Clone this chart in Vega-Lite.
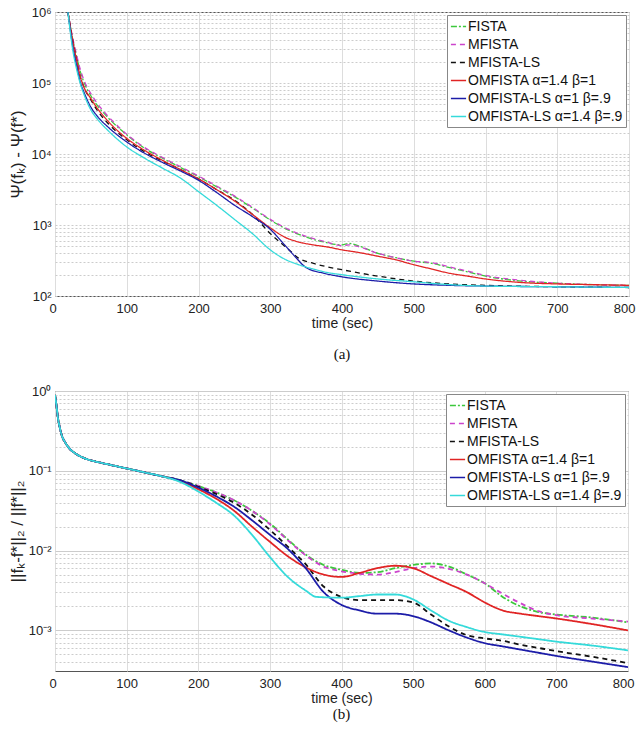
{
  "$schema": "https://vega.github.io/schema/vega-lite/v6.json",
  "padding": {"left": 7, "top": 5, "right": 4, "bottom": 5},
  "background": "white",
  "spacing": 21,
  "datasets": {
    "top": [
      {"t":18,"m":"FISTA","v":1000000},{"t":25,"m":"FISTA","v":398100},{"t":30,"m":"FISTA","v":239900},{"t":35,"m":"FISTA","v":147900},{"t":40,"m":"FISTA","v":104700},{"t":50,"m":"FISTA","v":66070},{"t":60,"m":"FISTA","v":46770},{"t":75,"m":"FISTA","v":31620},{"t":100,"m":"FISTA","v":18620},{"t":125,"m":"FISTA","v":12020},{"t":150,"m":"FISTA","v":8710},{"t":175,"m":"FISTA","v":6457},{"t":200,"m":"FISTA","v":4786},{"t":225,"m":"FISTA","v":3467},{"t":250,"m":"FISTA","v":2512},{"t":275,"m":"FISTA","v":1738},{"t":300,"m":"FISTA","v":1175},{"t":325,"m":"FISTA","v":851.1},{"t":350,"m":"FISTA","v":676.1},{"t":375,"m":"FISTA","v":575.4},{"t":400,"m":"FISTA","v":524.8},{"t":410,"m":"FISTA","v":549.5},{"t":425,"m":"FISTA","v":501.2},{"t":450,"m":"FISTA","v":398.1},{"t":475,"m":"FISTA","v":346.7},{"t":500,"m":"FISTA","v":309.0},{"t":525,"m":"FISTA","v":288.4},{"t":550,"m":"FISTA","v":251.2},{"t":575,"m":"FISTA","v":218.8},{"t":600,"m":"FISTA","v":190.5},{"t":650,"m":"FISTA","v":162.2},{"t":700,"m":"FISTA","v":151.4},{"t":750,"m":"FISTA","v":144.5},{"t":800,"m":"FISTA","v":141.3},
      {"t":18,"m":"MFISTA","v":1000000},{"t":25,"m":"MFISTA","v":416900},{"t":30,"m":"MFISTA","v":251200},{"t":35,"m":"MFISTA","v":158500},{"t":40,"m":"MFISTA","v":112200},{"t":50,"m":"MFISTA","v":70790},{"t":60,"m":"MFISTA","v":50120},{"t":75,"m":"MFISTA","v":33110},{"t":100,"m":"MFISTA","v":19050},{"t":125,"m":"MFISTA","v":12300},{"t":150,"m":"MFISTA","v":8913},{"t":175,"m":"MFISTA","v":6607},{"t":200,"m":"MFISTA","v":4898},{"t":225,"m":"MFISTA","v":3548},{"t":250,"m":"MFISTA","v":2570},{"t":275,"m":"MFISTA","v":1778},{"t":300,"m":"MFISTA","v":1202},{"t":325,"m":"MFISTA","v":871.0},{"t":350,"m":"MFISTA","v":691.8},{"t":375,"m":"MFISTA","v":588.8},{"t":400,"m":"MFISTA","v":512.9},{"t":410,"m":"MFISTA","v":524.8},{"t":425,"m":"MFISTA","v":489.8},{"t":450,"m":"MFISTA","v":398.1},{"t":475,"m":"MFISTA","v":346.7},{"t":500,"m":"MFISTA","v":309.0},{"t":525,"m":"MFISTA","v":295.1},{"t":550,"m":"MFISTA","v":257.0},{"t":575,"m":"MFISTA","v":223.9},{"t":600,"m":"MFISTA","v":195.0},{"t":650,"m":"MFISTA","v":166.0},{"t":700,"m":"MFISTA","v":151.4},{"t":750,"m":"MFISTA","v":144.5},{"t":800,"m":"MFISTA","v":141.3},
      {"t":18,"m":"MFISTA-LS","v":1000000},{"t":25,"m":"MFISTA-LS","v":380200},{"t":30,"m":"MFISTA-LS","v":213800},{"t":35,"m":"MFISTA-LS","v":125900},{"t":40,"m":"MFISTA-LS","v":89130},{"t":50,"m":"MFISTA-LS","v":57540},{"t":60,"m":"MFISTA-LS","v":39810},{"t":75,"m":"MFISTA-LS","v":26300},{"t":100,"m":"MFISTA-LS","v":15850},{"t":125,"m":"MFISTA-LS","v":10720},{"t":150,"m":"MFISTA-LS","v":7943},{"t":175,"m":"MFISTA-LS","v":6026},{"t":200,"m":"MFISTA-LS","v":4467},{"t":225,"m":"MFISTA-LS","v":3162},{"t":250,"m":"MFISTA-LS","v":2239},{"t":275,"m":"MFISTA-LS","v":1413},{"t":300,"m":"MFISTA-LS","v":758.6},{"t":325,"m":"MFISTA-LS","v":457.1},{"t":340,"m":"MFISTA-LS","v":338.8},{"t":360,"m":"MFISTA-LS","v":288.4},{"t":380,"m":"MFISTA-LS","v":257.0},{"t":400,"m":"MFISTA-LS","v":234.4},{"t":450,"m":"MFISTA-LS","v":190.5},{"t":500,"m":"MFISTA-LS","v":162.2},{"t":550,"m":"MFISTA-LS","v":147.9},{"t":600,"m":"MFISTA-LS","v":141.3},{"t":700,"m":"MFISTA-LS","v":134.9},{"t":800,"m":"MFISTA-LS","v":131.8},
      {"t":18,"m":"OMFISTA α=1.4 β=1","v":1000000},{"t":25,"m":"OMFISTA α=1.4 β=1","v":380200},{"t":30,"m":"OMFISTA α=1.4 β=1","v":213800},{"t":35,"m":"OMFISTA α=1.4 β=1","v":125900},{"t":40,"m":"OMFISTA α=1.4 β=1","v":89130},{"t":50,"m":"OMFISTA α=1.4 β=1","v":60260},{"t":60,"m":"OMFISTA α=1.4 β=1","v":42660},{"t":75,"m":"OMFISTA α=1.4 β=1","v":28180},{"t":100,"m":"OMFISTA α=1.4 β=1","v":16600},{"t":125,"m":"OMFISTA α=1.4 β=1","v":11220},{"t":150,"m":"OMFISTA α=1.4 β=1","v":8128},{"t":175,"m":"OMFISTA α=1.4 β=1","v":6026},{"t":200,"m":"OMFISTA α=1.4 β=1","v":4467},{"t":225,"m":"OMFISTA α=1.4 β=1","v":3162},{"t":250,"m":"OMFISTA α=1.4 β=1","v":2188},{"t":275,"m":"OMFISTA α=1.4 β=1","v":1413},{"t":300,"m":"OMFISTA α=1.4 β=1","v":912.0},{"t":320,"m":"OMFISTA α=1.4 β=1","v":676.1},{"t":340,"m":"OMFISTA α=1.4 β=1","v":575.4},{"t":360,"m":"OMFISTA α=1.4 β=1","v":524.8},{"t":380,"m":"OMFISTA α=1.4 β=1","v":489.8},{"t":400,"m":"OMFISTA α=1.4 β=1","v":446.7},{"t":425,"m":"OMFISTA α=1.4 β=1","v":407.4},{"t":450,"m":"OMFISTA α=1.4 β=1","v":363.1},{"t":475,"m":"OMFISTA α=1.4 β=1","v":323.6},{"t":500,"m":"OMFISTA α=1.4 β=1","v":275.4},{"t":525,"m":"OMFISTA α=1.4 β=1","v":239.9},{"t":550,"m":"OMFISTA α=1.4 β=1","v":208.9},{"t":575,"m":"OMFISTA α=1.4 β=1","v":190.5},{"t":600,"m":"OMFISTA α=1.4 β=1","v":173.8},{"t":650,"m":"OMFISTA α=1.4 β=1","v":154.9},{"t":700,"m":"OMFISTA α=1.4 β=1","v":147.9},{"t":750,"m":"OMFISTA α=1.4 β=1","v":144.5},{"t":800,"m":"OMFISTA α=1.4 β=1","v":141.3},
      {"t":18,"m":"OMFISTA-LS α=1 β=.9","v":1000000},{"t":25,"m":"OMFISTA-LS α=1 β=.9","v":316200},{"t":30,"m":"OMFISTA-LS α=1 β=.9","v":177800},{"t":35,"m":"OMFISTA-LS α=1 β=.9","v":104700},{"t":40,"m":"OMFISTA-LS α=1 β=.9","v":75860},{"t":50,"m":"OMFISTA-LS α=1 β=.9","v":45710},{"t":60,"m":"OMFISTA-LS α=1 β=.9","v":33110},{"t":75,"m":"OMFISTA-LS α=1 β=.9","v":23440},{"t":100,"m":"OMFISTA-LS α=1 β=.9","v":14790},{"t":125,"m":"OMFISTA-LS α=1 β=.9","v":10230},{"t":150,"m":"OMFISTA-LS α=1 β=.9","v":7586},{"t":175,"m":"OMFISTA-LS α=1 β=.9","v":5754},{"t":200,"m":"OMFISTA-LS α=1 β=.9","v":4266},{"t":225,"m":"OMFISTA-LS α=1 β=.9","v":2884},{"t":250,"m":"OMFISTA-LS α=1 β=.9","v":1905},{"t":275,"m":"OMFISTA-LS α=1 β=.9","v":1318},{"t":300,"m":"OMFISTA-LS α=1 β=.9","v":871.0},{"t":320,"m":"OMFISTA-LS α=1 β=.9","v":524.8},{"t":335,"m":"OMFISTA-LS α=1 β=.9","v":354.8},{"t":350,"m":"OMFISTA-LS α=1 β=.9","v":251.2},{"t":375,"m":"OMFISTA-LS α=1 β=.9","v":208.9},{"t":400,"m":"OMFISTA-LS α=1 β=.9","v":186.2},{"t":450,"m":"OMFISTA-LS α=1 β=.9","v":162.2},{"t":500,"m":"OMFISTA-LS α=1 β=.9","v":147.9},{"t":550,"m":"OMFISTA-LS α=1 β=.9","v":141.3},{"t":600,"m":"OMFISTA-LS α=1 β=.9","v":138.0},{"t":700,"m":"OMFISTA-LS α=1 β=.9","v":134.9},{"t":800,"m":"OMFISTA-LS α=1 β=.9","v":131.8},
      {"t":18,"m":"OMFISTA-LS α=1.4 β=.9","v":1000000},{"t":25,"m":"OMFISTA-LS α=1.4 β=.9","v":281800},{"t":30,"m":"OMFISTA-LS α=1.4 β=.9","v":158500},{"t":35,"m":"OMFISTA-LS α=1.4 β=.9","v":100000},{"t":40,"m":"OMFISTA-LS α=1.4 β=.9","v":70790},{"t":50,"m":"OMFISTA-LS α=1.4 β=.9","v":41690},{"t":60,"m":"OMFISTA-LS α=1.4 β=.9","v":30200},{"t":75,"m":"OMFISTA-LS α=1.4 β=.9","v":20890},{"t":100,"m":"OMFISTA-LS α=1.4 β=.9","v":12590},{"t":125,"m":"OMFISTA-LS α=1.4 β=.9","v":8710},{"t":150,"m":"OMFISTA-LS α=1.4 β=.9","v":6310},{"t":175,"m":"OMFISTA-LS α=1.4 β=.9","v":4571},{"t":200,"m":"OMFISTA-LS α=1.4 β=.9","v":2951},{"t":225,"m":"OMFISTA-LS α=1.4 β=.9","v":1905},{"t":250,"m":"OMFISTA-LS α=1.4 β=.9","v":1202},{"t":275,"m":"OMFISTA-LS α=1.4 β=.9","v":758.6},{"t":300,"m":"OMFISTA-LS α=1.4 β=.9","v":446.7},{"t":320,"m":"OMFISTA-LS α=1.4 β=.9","v":331.1},{"t":340,"m":"OMFISTA-LS α=1.4 β=.9","v":275.4},{"t":360,"m":"OMFISTA-LS α=1.4 β=.9","v":239.9},{"t":380,"m":"OMFISTA-LS α=1.4 β=.9","v":213.8},{"t":400,"m":"OMFISTA-LS α=1.4 β=.9","v":199.5},{"t":450,"m":"OMFISTA-LS α=1.4 β=.9","v":173.8},{"t":500,"m":"OMFISTA-LS α=1.4 β=.9","v":158.5},{"t":550,"m":"OMFISTA-LS α=1.4 β=.9","v":144.5},{"t":600,"m":"OMFISTA-LS α=1.4 β=.9","v":138.0},{"t":700,"m":"OMFISTA-LS α=1.4 β=.9","v":134.9},{"t":800,"m":"OMFISTA-LS α=1.4 β=.9","v":131.8}
    ],
    "bot": [
      {"t":0,"m":"FISTA","v":0.891},{"t":2,"m":"FISTA","v":0.661},{"t":4,"m":"FISTA","v":0.468},{"t":7,"m":"FISTA","v":0.339},{"t":10,"m":"FISTA","v":0.269},{"t":14,"m":"FISTA","v":0.229},{"t":20,"m":"FISTA","v":0.191},{"t":28,"m":"FISTA","v":0.166},{"t":40,"m":"FISTA","v":0.145},{"t":55,"m":"FISTA","v":0.132},{"t":75,"m":"FISTA","v":0.120},{"t":100,"m":"FISTA","v":0.107},{"t":125,"m":"FISTA","v":0.0955},{"t":150,"m":"FISTA","v":0.0851},
      {"t":175,"m":"FISTA","v":0.0759},{"t":200,"m":"FISTA","v":0.0646},{"t":225,"m":"FISTA","v":0.0537},{"t":250,"m":"FISTA","v":0.0427},{"t":275,"m":"FISTA","v":0.0316},{"t":300,"m":"FISTA","v":0.0219},{"t":325,"m":"FISTA","v":0.0138},{"t":350,"m":"FISTA","v":0.00891},{"t":375,"m":"FISTA","v":0.00661},{"t":400,"m":"FISTA","v":0.00575},{"t":425,"m":"FISTA","v":0.00525},{"t":450,"m":"FISTA","v":0.00537},{"t":475,"m":"FISTA","v":0.00603},{"t":500,"m":"FISTA","v":0.00661},{"t":525,"m":"FISTA","v":0.00692},{"t":550,"m":"FISTA","v":0.00631},{"t":575,"m":"FISTA","v":0.00501},{"t":600,"m":"FISTA","v":0.00389},{"t":625,"m":"FISTA","v":0.00263},{"t":650,"m":"FISTA","v":0.00200},{"t":675,"m":"FISTA","v":0.00170},{"t":700,"m":"FISTA","v":0.00158},{"t":750,"m":"FISTA","v":0.00145},{"t":800,"m":"FISTA","v":0.00126},
      {"t":0,"m":"MFISTA","v":0.891},{"t":2,"m":"MFISTA","v":0.661},{"t":4,"m":"MFISTA","v":0.468},{"t":7,"m":"MFISTA","v":0.339},{"t":10,"m":"MFISTA","v":0.269},{"t":14,"m":"MFISTA","v":0.229},{"t":20,"m":"MFISTA","v":0.191},{"t":28,"m":"MFISTA","v":0.166},{"t":40,"m":"MFISTA","v":0.145},{"t":55,"m":"MFISTA","v":0.132},{"t":75,"m":"MFISTA","v":0.120},{"t":100,"m":"MFISTA","v":0.107},{"t":125,"m":"MFISTA","v":0.0955},{"t":150,"m":"MFISTA","v":0.0851},
      {"t":175,"m":"MFISTA","v":0.0759},{"t":200,"m":"MFISTA","v":0.0646},{"t":225,"m":"MFISTA","v":0.0537},{"t":250,"m":"MFISTA","v":0.0427},{"t":275,"m":"MFISTA","v":0.0316},{"t":300,"m":"MFISTA","v":0.0214},{"t":325,"m":"MFISTA","v":0.0135},{"t":350,"m":"MFISTA","v":0.00871},{"t":375,"m":"MFISTA","v":0.00631},{"t":400,"m":"MFISTA","v":0.00550},{"t":425,"m":"MFISTA","v":0.00513},{"t":450,"m":"MFISTA","v":0.00501},{"t":475,"m":"MFISTA","v":0.00537},{"t":500,"m":"MFISTA","v":0.00603},{"t":525,"m":"MFISTA","v":0.00631},{"t":550,"m":"MFISTA","v":0.00589},{"t":575,"m":"MFISTA","v":0.00501},{"t":600,"m":"MFISTA","v":0.00389},{"t":625,"m":"MFISTA","v":0.00288},{"t":650,"m":"MFISTA","v":0.00219},{"t":675,"m":"MFISTA","v":0.00174},{"t":700,"m":"MFISTA","v":0.00155},{"t":750,"m":"MFISTA","v":0.00141},{"t":800,"m":"MFISTA","v":0.00129},
      {"t":0,"m":"MFISTA-LS","v":0.891},{"t":2,"m":"MFISTA-LS","v":0.661},{"t":4,"m":"MFISTA-LS","v":0.468},{"t":7,"m":"MFISTA-LS","v":0.339},{"t":10,"m":"MFISTA-LS","v":0.269},{"t":14,"m":"MFISTA-LS","v":0.229},{"t":20,"m":"MFISTA-LS","v":0.191},{"t":28,"m":"MFISTA-LS","v":0.166},{"t":40,"m":"MFISTA-LS","v":0.145},{"t":55,"m":"MFISTA-LS","v":0.132},{"t":75,"m":"MFISTA-LS","v":0.120},{"t":100,"m":"MFISTA-LS","v":0.107},{"t":125,"m":"MFISTA-LS","v":0.0955},{"t":150,"m":"MFISTA-LS","v":0.0851},
      {"t":175,"m":"MFISTA-LS","v":0.0759},{"t":200,"m":"MFISTA-LS","v":0.0631},{"t":225,"m":"MFISTA-LS","v":0.0513},{"t":250,"m":"MFISTA-LS","v":0.0398},{"t":275,"m":"MFISTA-LS","v":0.0282},{"t":300,"m":"MFISTA-LS","v":0.0182},{"t":325,"m":"MFISTA-LS","v":0.0112},{"t":350,"m":"MFISTA-LS","v":0.00676},{"t":375,"m":"MFISTA-LS","v":0.00355},{"t":400,"m":"MFISTA-LS","v":0.00263},{"t":425,"m":"MFISTA-LS","v":0.00240},{"t":450,"m":"MFISTA-LS","v":0.00240},{"t":475,"m":"MFISTA-LS","v":0.00240},{"t":500,"m":"MFISTA-LS","v":0.00224},{"t":525,"m":"MFISTA-LS","v":0.00158},{"t":550,"m":"MFISTA-LS","v":0.00112},{"t":575,"m":"MFISTA-LS","v":0.000871},{"t":600,"m":"MFISTA-LS","v":0.000794},{"t":625,"m":"MFISTA-LS","v":0.000741},{"t":650,"m":"MFISTA-LS","v":0.000661},{"t":675,"m":"MFISTA-LS","v":0.000603},{"t":700,"m":"MFISTA-LS","v":0.000550},{"t":750,"m":"MFISTA-LS","v":0.000468},{"t":800,"m":"MFISTA-LS","v":0.000389},
      {"t":0,"m":"OMFISTA α=1.4 β=1","v":0.891},{"t":2,"m":"OMFISTA α=1.4 β=1","v":0.661},{"t":4,"m":"OMFISTA α=1.4 β=1","v":0.468},{"t":7,"m":"OMFISTA α=1.4 β=1","v":0.339},{"t":10,"m":"OMFISTA α=1.4 β=1","v":0.269},{"t":14,"m":"OMFISTA α=1.4 β=1","v":0.229},{"t":20,"m":"OMFISTA α=1.4 β=1","v":0.191},{"t":28,"m":"OMFISTA α=1.4 β=1","v":0.166},{"t":40,"m":"OMFISTA α=1.4 β=1","v":0.145},{"t":55,"m":"OMFISTA α=1.4 β=1","v":0.132},{"t":75,"m":"OMFISTA α=1.4 β=1","v":0.120},{"t":100,"m":"OMFISTA α=1.4 β=1","v":0.107},{"t":125,"m":"OMFISTA α=1.4 β=1","v":0.0955},{"t":150,"m":"OMFISTA α=1.4 β=1","v":0.0851},
      {"t":175,"m":"OMFISTA α=1.4 β=1","v":0.0741},{"t":200,"m":"OMFISTA α=1.4 β=1","v":0.0589},{"t":225,"m":"OMFISTA α=1.4 β=1","v":0.0447},{"t":250,"m":"OMFISTA α=1.4 β=1","v":0.0316},{"t":275,"m":"OMFISTA α=1.4 β=1","v":0.0200},{"t":300,"m":"OMFISTA α=1.4 β=1","v":0.0129},{"t":325,"m":"OMFISTA α=1.4 β=1","v":0.00851},{"t":350,"m":"OMFISTA α=1.4 β=1","v":0.00617},{"t":375,"m":"OMFISTA α=1.4 β=1","v":0.00501},{"t":400,"m":"OMFISTA α=1.4 β=1","v":0.00468},{"t":425,"m":"OMFISTA α=1.4 β=1","v":0.00525},{"t":450,"m":"OMFISTA α=1.4 β=1","v":0.00603},{"t":475,"m":"OMFISTA α=1.4 β=1","v":0.00646},{"t":500,"m":"OMFISTA α=1.4 β=1","v":0.00603},{"t":525,"m":"OMFISTA α=1.4 β=1","v":0.00479},{"t":550,"m":"OMFISTA α=1.4 β=1","v":0.00380},{"t":575,"m":"OMFISTA α=1.4 β=1","v":0.00302},{"t":600,"m":"OMFISTA α=1.4 β=1","v":0.00224},{"t":625,"m":"OMFISTA α=1.4 β=1","v":0.00178},{"t":650,"m":"OMFISTA α=1.4 β=1","v":0.00162},{"t":675,"m":"OMFISTA α=1.4 β=1","v":0.00151},{"t":700,"m":"OMFISTA α=1.4 β=1","v":0.00141},{"t":750,"m":"OMFISTA α=1.4 β=1","v":0.00120},{"t":800,"m":"OMFISTA α=1.4 β=1","v":0.00100},
      {"t":0,"m":"OMFISTA-LS α=1 β=.9","v":0.891},{"t":2,"m":"OMFISTA-LS α=1 β=.9","v":0.661},{"t":4,"m":"OMFISTA-LS α=1 β=.9","v":0.468},{"t":7,"m":"OMFISTA-LS α=1 β=.9","v":0.339},{"t":10,"m":"OMFISTA-LS α=1 β=.9","v":0.269},{"t":14,"m":"OMFISTA-LS α=1 β=.9","v":0.229},{"t":20,"m":"OMFISTA-LS α=1 β=.9","v":0.191},{"t":28,"m":"OMFISTA-LS α=1 β=.9","v":0.166},{"t":40,"m":"OMFISTA-LS α=1 β=.9","v":0.145},{"t":55,"m":"OMFISTA-LS α=1 β=.9","v":0.132},{"t":75,"m":"OMFISTA-LS α=1 β=.9","v":0.120},{"t":100,"m":"OMFISTA-LS α=1 β=.9","v":0.107},{"t":125,"m":"OMFISTA-LS α=1 β=.9","v":0.0955},{"t":150,"m":"OMFISTA-LS α=1 β=.9","v":0.0851},
      {"t":175,"m":"OMFISTA-LS α=1 β=.9","v":0.0759},{"t":200,"m":"OMFISTA-LS α=1 β=.9","v":0.0617},{"t":225,"m":"OMFISTA-LS α=1 β=.9","v":0.0479},{"t":250,"m":"OMFISTA-LS α=1 β=.9","v":0.0355},{"t":275,"m":"OMFISTA-LS α=1 β=.9","v":0.0240},{"t":300,"m":"OMFISTA-LS α=1 β=.9","v":0.0158},{"t":325,"m":"OMFISTA-LS α=1 β=.9","v":0.0105},{"t":350,"m":"OMFISTA-LS α=1 β=.9","v":0.00603},{"t":375,"m":"OMFISTA-LS α=1 β=.9","v":0.00302},{"t":400,"m":"OMFISTA-LS α=1 β=.9","v":0.00209},{"t":425,"m":"OMFISTA-LS α=1 β=.9","v":0.00178},{"t":450,"m":"OMFISTA-LS α=1 β=.9","v":0.00162},{"t":475,"m":"OMFISTA-LS α=1 β=.9","v":0.00162},{"t":500,"m":"OMFISTA-LS α=1 β=.9","v":0.00151},{"t":525,"m":"OMFISTA-LS α=1 β=.9","v":0.00126},{"t":550,"m":"OMFISTA-LS α=1 β=.9","v":0.00100},{"t":575,"m":"OMFISTA-LS α=1 β=.9","v":0.000813},{"t":600,"m":"OMFISTA-LS α=1 β=.9","v":0.000692},{"t":625,"m":"OMFISTA-LS α=1 β=.9","v":0.000631},{"t":650,"m":"OMFISTA-LS α=1 β=.9","v":0.000575},{"t":675,"m":"OMFISTA-LS α=1 β=.9","v":0.000525},{"t":700,"m":"OMFISTA-LS α=1 β=.9","v":0.000479},{"t":750,"m":"OMFISTA-LS α=1 β=.9","v":0.000407},{"t":800,"m":"OMFISTA-LS α=1 β=.9","v":0.000347},
      {"t":0,"m":"OMFISTA-LS α=1.4 β=.9","v":0.891},{"t":2,"m":"OMFISTA-LS α=1.4 β=.9","v":0.661},{"t":4,"m":"OMFISTA-LS α=1.4 β=.9","v":0.468},{"t":7,"m":"OMFISTA-LS α=1.4 β=.9","v":0.339},{"t":10,"m":"OMFISTA-LS α=1.4 β=.9","v":0.269},{"t":14,"m":"OMFISTA-LS α=1.4 β=.9","v":0.229},{"t":20,"m":"OMFISTA-LS α=1.4 β=.9","v":0.191},{"t":28,"m":"OMFISTA-LS α=1.4 β=.9","v":0.166},{"t":40,"m":"OMFISTA-LS α=1.4 β=.9","v":0.145},{"t":55,"m":"OMFISTA-LS α=1.4 β=.9","v":0.132},{"t":75,"m":"OMFISTA-LS α=1.4 β=.9","v":0.120},{"t":100,"m":"OMFISTA-LS α=1.4 β=.9","v":0.107},{"t":125,"m":"OMFISTA-LS α=1.4 β=.9","v":0.0955},{"t":150,"m":"OMFISTA-LS α=1.4 β=.9","v":0.0851},
      {"t":175,"m":"OMFISTA-LS α=1.4 β=.9","v":0.0724},{"t":200,"m":"OMFISTA-LS α=1.4 β=.9","v":0.0550},{"t":225,"m":"OMFISTA-LS α=1.4 β=.9","v":0.0398},{"t":250,"m":"OMFISTA-LS α=1.4 β=.9","v":0.0275},{"t":275,"m":"OMFISTA-LS α=1.4 β=.9","v":0.0158},{"t":300,"m":"OMFISTA-LS α=1.4 β=.9","v":0.00832},{"t":325,"m":"OMFISTA-LS α=1.4 β=.9","v":0.00468},{"t":350,"m":"OMFISTA-LS α=1.4 β=.9","v":0.00316},{"t":365,"m":"OMFISTA-LS α=1.4 β=.9","v":0.00263},{"t":400,"m":"OMFISTA-LS α=1.4 β=.9","v":0.00257},{"t":425,"m":"OMFISTA-LS α=1.4 β=.9","v":0.00269},{"t":450,"m":"OMFISTA-LS α=1.4 β=.9","v":0.00282},{"t":475,"m":"OMFISTA-LS α=1.4 β=.9","v":0.00282},{"t":500,"m":"OMFISTA-LS α=1.4 β=.9","v":0.00245},{"t":525,"m":"OMFISTA-LS α=1.4 β=.9","v":0.00178},{"t":550,"m":"OMFISTA-LS α=1.4 β=.9","v":0.00132},{"t":575,"m":"OMFISTA-LS α=1.4 β=.9","v":0.00110},{"t":600,"m":"OMFISTA-LS α=1.4 β=.9","v":0.000955},{"t":625,"m":"OMFISTA-LS α=1.4 β=.9","v":0.000891},{"t":650,"m":"OMFISTA-LS α=1.4 β=.9","v":0.000832},{"t":675,"m":"OMFISTA-LS α=1.4 β=.9","v":0.000776},{"t":700,"m":"OMFISTA-LS α=1.4 β=.9","v":0.000724},{"t":750,"m":"OMFISTA-LS α=1.4 β=.9","v":0.000646},{"t":800,"m":"OMFISTA-LS α=1.4 β=.9","v":0.000562}
    ]
  },
  "resolve": {"scale": {"color": "independent", "strokeDash": "independent"}, "legend": {"color": "independent", "strokeDash": "independent"}},
  "vconcat": [
    {
      "width": 574,
      "height": 284,
      "data": {"name": "top"},
      "title": {"text": "(a)", "orient": "bottom", "frame": "group", "anchor": "middle", "font": "Liberation Serif", "fontSize": 15, "fontWeight": "normal", "color": "#111", "offset": 17},
      "mark": {"type": "line", "strokeWidth": 1.3, "clip": true, "interpolate": "monotone"},
      "encoding": {
        "x": {"field": "t", "type": "quantitative", "scale": {"domain": [0, 800], "nice": false},
              "axis": {"values": [0,100,200,300,400,500,600,700,800], "title": "time (sec)", "titleFontSize": 14, "titlePadding": 1, "labelPadding": 6, "labelFlush": true, "labelFlushOffset": 6, "grid": true, "gridColor": "#dddddd"}},
        "y": {"field": "v", "type": "quantitative", "scale": {"type": "log", "domain": [100, 1000000], "nice": false},
              "axis": {"title": "Ψ(fₖ) - Ψ(f*)", "titlePadding": 4,
                       "values": [100,200,300,400,500,600,700,800,900,1000,2000,3000,4000,5000,6000,7000,8000,9000,10000,20000,30000,40000,50000,60000,70000,80000,90000,100000,200000,300000,400000,500000,600000,700000,800000,900000,1000000],
                       "labelExpr": "datum.value==100?'10²':datum.value==1000?'10³':datum.value==10000?'10⁴':datum.value==100000?'10⁵':datum.value==1000000?'10⁶':''",
                       "grid": true, "gridDash": [2, 2], "gridColor": "#cccccc"}},
        "color": {"field": "m", "type": "nominal", "title": null,
                  "scale": {"domain": ["FISTA","MFISTA","MFISTA-LS","OMFISTA α=1.4 β=1","OMFISTA-LS α=1 β=.9","OMFISTA-LS α=1.4 β=.9"],
                            "range": ["#3cc83c","#cc44cc","#111111","#e02424","#1c1ca8","#35dada"]}},
        "strokeDash": {"field": "m", "type": "nominal", "title": null,
                  "scale": {"domain": ["FISTA","MFISTA","MFISTA-LS","OMFISTA α=1.4 β=1","OMFISTA-LS α=1 β=.9","OMFISTA-LS α=1.4 β=.9"],
                            "range": [[6,2,2,2],[5,4],[5,4],[1,0],[1,0],[1,0]]}}
      }
    },
    {
      "width": 573,
      "height": 280,
      "data": {"name": "bot"},
      "title": {"text": "(b)", "orient": "bottom", "frame": "group", "anchor": "middle", "font": "Liberation Serif", "fontSize": 15, "fontWeight": "normal", "color": "#111", "offset": 2},
      "mark": {"type": "line", "strokeWidth": 1.8, "clip": true, "interpolate": "monotone"},
      "encoding": {
        "x": {"field": "t", "type": "quantitative", "scale": {"domain": [0, 800], "nice": false},
              "axis": {"values": [0,100,200,300,400,500,600,700,800], "title": "time (sec)", "titleFontSize": 14, "titlePadding": 1, "labelPadding": 6, "labelFlush": true, "labelFlushOffset": 6, "grid": true, "gridColor": "#dddddd"}},
        "y": {"field": "v", "type": "quantitative", "scale": {"type": "log", "domain": [0.00031, 1], "nice": false},
              "axis": {"title": "||fₖ-f*||₂ / ||f*||₂", "titlePadding": 2,
                       "values": [0.0004,0.0005,0.0006,0.0007,0.0008,0.0009,0.001,0.002,0.003,0.004,0.005,0.006,0.007,0.008,0.009,0.01,0.02,0.03,0.04,0.05,0.06,0.07,0.08,0.09,0.1,0.2,0.3,0.4,0.5,0.6,0.7,0.8,0.9,1],
                       "labelExpr": "datum.value==0.001?'10⁻³':datum.value==0.01?'10⁻²':datum.value==0.1?'10⁻¹':datum.value==1?'10⁰':''",
                       "grid": true,
                       "gridDash": {"condition": {"test": "datum.value==0.001||datum.value==0.01||datum.value==0.1||datum.value==1", "value": []}, "value": [2, 2]},
                       "gridColor": "#cccccc"}},
        "color": {"field": "m", "type": "nominal", "title": null,
                  "scale": {"domain": ["FISTA","MFISTA","MFISTA-LS","OMFISTA α=1.4 β=1","OMFISTA-LS α=1 β=.9","OMFISTA-LS α=1.4 β=.9"],
                            "range": ["#3cc83c","#cc44cc","#111111","#e02424","#1c1ca8","#35dada"]}},
        "strokeDash": {"field": "m", "type": "nominal", "title": null,
                  "scale": {"domain": ["FISTA","MFISTA","MFISTA-LS","OMFISTA α=1.4 β=1","OMFISTA-LS α=1 β=.9","OMFISTA-LS α=1.4 β=.9"],
                            "range": [[6,2,2,2],[5,4],[5,4],[1,0],[1,0],[1,0]]}}
      }
    }
  ],
  "config": {
    "view": {"stroke": "#555555", "strokeWidth": 1},
    "font": "Liberation Sans",
    "axis": {"labelFont": "Liberation Sans", "labelFontSize": 13, "labelColor": "#222222", "titleFont": "Liberation Sans", "titleFontSize": 17, "titleFontWeight": "normal", "titleColor": "#222222", "domain": false, "ticks": false, "labelPadding": 4},
    "legend": {"orient": "top-right", "offset": 3, "fillColor": "white", "strokeColor": "#888888", "padding": 3, "labelFont": "Liberation Sans", "labelFontSize": 14, "labelColor": "#111111", "labelLimit": 300, "symbolType": "stroke", "symbolSize": 230, "symbolStrokeWidth": 1.6, "rowPadding": 2, "labelOffset": 1, "cornerRadius": 0}
  }
}
